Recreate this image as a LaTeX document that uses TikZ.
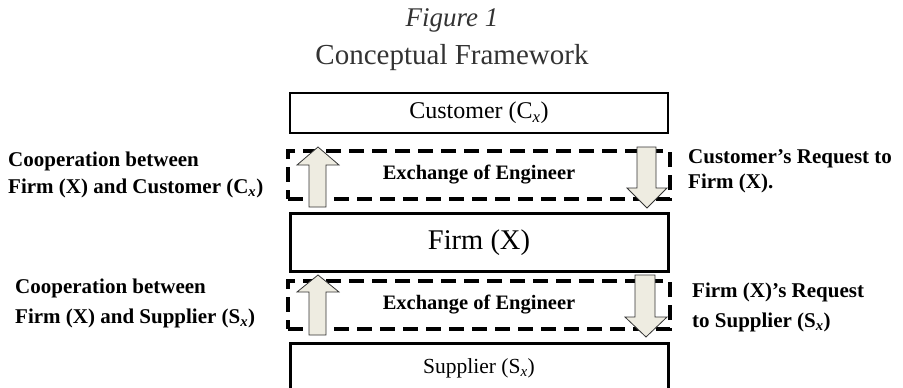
\documentclass[tikz,border=0pt]{standalone}
\usepackage{fontspec}
\setmainfont{Liberation Serif}
\usepackage{tikz}
\usetikzlibrary{positioning}
\usepackage{xcolor}
\definecolor{arrowfill}{RGB}{238,236,225}
\newcommand{\sub}[1]{\textsubscript{\textit{#1}}}

\begin{document}
\begin{tikzpicture}[
    x=1pt, y=-1pt,
    party/.style={draw, line width=2pt, minimum width=378pt, inner sep=0pt},
    exchange/.style={draw, line width=4pt, dash pattern=on 15pt off 8pt, minimum width=382pt, minimum height=48pt, inner sep=0pt, font=\bfseries\fontsize{20.5}{22}\selectfont},
    sidelabel/.style={anchor=base west, inner sep=0pt, font=\bfseries\fontsize{21}{25}\selectfont},
    blockarrow/.style={draw=black!80, line width=0.8pt, fill=arrowfill, line join=miter}
]
    \clip (0,0) rectangle (903,388);

    % Title
    \node[anchor=base, font=\itshape\fontsize{27}{30}\selectfont, text=black!80] (fig) at (452,27) {Figure 1};
    \node[anchor=base, font=\fontsize{29}{32}\selectfont, text=black!80] (title) at (452,64) {Conceptual Framework};

    % Exchange zones
    \node[exchange] (exchA) at (479,175) {Exchange of Engineer};
    \node[exchange] (exchB) at (479,305) {Exchange of Engineer};

    % Parties
    \node[party, minimum height=40pt, font=\fontsize{24}{26}\selectfont] (customer) at (479,112.5) {Customer (C\sub{x})};
    \node[party, line width=3pt, minimum height=58pt, font=\fontsize{28.5}{32}\selectfont] (firm) at (479,242.5) {Firm (X)};
    \node[party, line width=3pt, minimum height=50pt, font=\fontsize{21.5}{24}\selectfont] (supplier) at (479,368) {Supplier (S\sub{x})};

    % Cooperation arrows (up)
    \draw[blockarrow] (309,207) -- (309,165) -- (297,165) -- (318,147) -- (339,165) -- (326,165) -- (326,207) -- cycle;
    \draw[blockarrow] (309,335) -- (309,292) -- (297,292) -- (318,275) -- (339,292) -- (326,292) -- (326,335) -- cycle;

    % Request arrows (down)
    \draw[blockarrow] (637,147) -- (637,188) -- (627,188) -- (647,208) -- (667,188) -- (656,188) -- (656,147) -- cycle;
    \draw[blockarrow] (635,275) -- (635,317) -- (625,317) -- (646,337) -- (667,317) -- (655,317) -- (655,275) -- cycle;

    % Side labels, one node per line
    \node[sidelabel] (coopA) at (8,166) {Cooperation between};
    \node[sidelabel] (coopAb) at (8,193) {Firm (X) and Customer (C\sub{x})};
    \node[sidelabel] (coopB) at (15,293) {Cooperation between};
    \node[sidelabel] (coopBb) at (15,323) {Firm (X) and Supplier (S\sub{x})};
    \node[sidelabel] (reqA) at (688,163) {Customer's Request to};
    \node[sidelabel] (reqAb) at (688,188) {Firm (X).};
    \node[sidelabel] (reqB) at (692,297) {Firm (X)'s Request};
    \node[sidelabel] (reqBb) at (692,327) {to Supplier (S\sub{x})};
\end{tikzpicture}
\end{document}
